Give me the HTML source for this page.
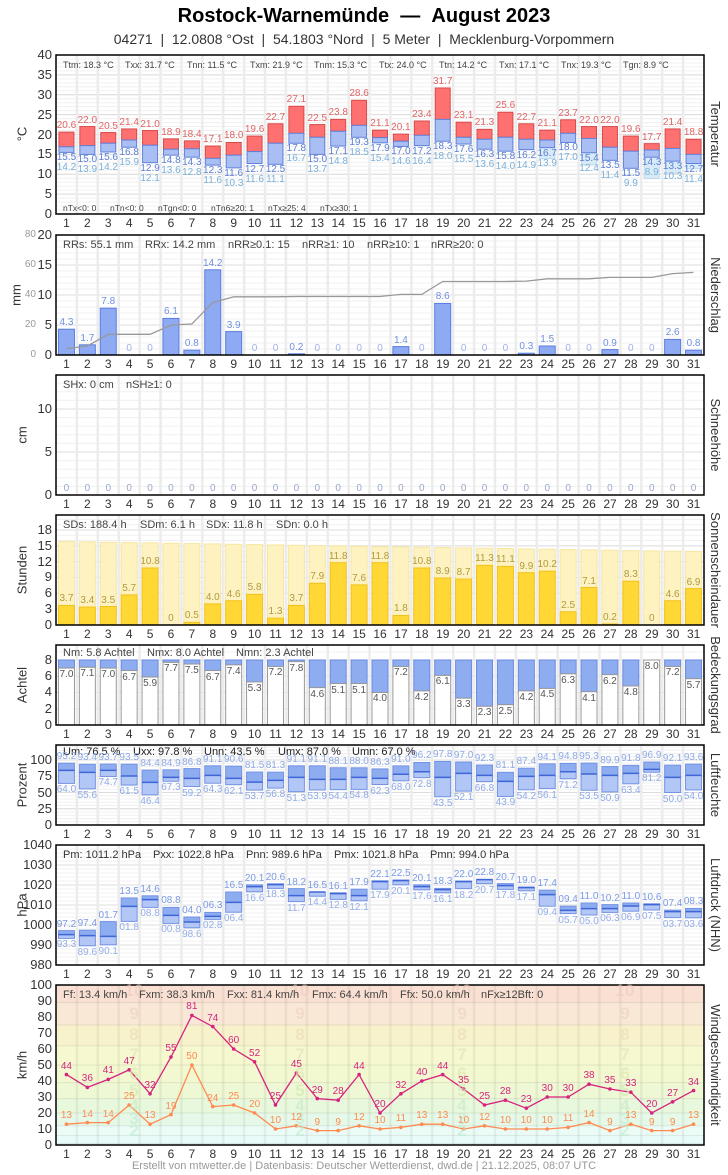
<!DOCTYPE html>
<html><head><meta charset="utf-8"><style>
body{margin:0;background:#fff;font-family:"Liberation Sans",sans-serif;}
#wrap{position:relative;width:728px;height:1175px;overflow:hidden;}
svg{position:absolute;left:0;top:0;}
.t1{position:absolute;left:0;width:728px;text-align:center;top:5px;font-size:20px;font-weight:bold;color:#000;}
.t2{position:absolute;left:0;width:728px;text-align:center;top:31px;font-size:14px;color:#333;}
.days{position:absolute;left:56px;width:648px;display:flex;font-size:12px;color:#333;}
.days span{flex:1;text-align:center;}
.g span{position:absolute;transform:translateX(-50%);font-size:10px;line-height:12px;white-space:nowrap;}
.yt span{position:absolute;right:676px;font-size:13px;line-height:14px;color:#333;}
.y2 span{position:absolute;right:692px;font-size:10px;line-height:12px;color:#999;}
.st{position:absolute;font-size:10.5px;color:#444;white-space:nowrap;}
.rt{position:absolute;left:708px;writing-mode:vertical-rl;font-size:13px;color:#333;white-space:nowrap;transform:translateY(-50%);}
.lt{position:absolute;writing-mode:vertical-rl;font-size:13px;color:#333;white-space:nowrap;transform:translate(-50%,-50%) rotate(180deg);left:22px;}
.bft span{position:absolute;transform:translateX(-50%);font-size:17px;font-weight:bold;line-height:20px;opacity:0.6;}
.foot{position:absolute;left:0;width:728px;text-align:center;top:1160px;font-size:11px;color:#999;}
.ts{font-size:9px !important;}
.tb{font-size:8.5px !important;}
</style></head><body><div id="wrap">
<svg id="sv" width="728" height="1175"></svg>
<div class="bft" id="bft">
<span>2</span><span>3</span><span>4</span><span>5</span><span>6</span><span>7</span><span>8</span><span>9</span><span>10</span>
<span>2</span><span>3</span><span>4</span><span>5</span><span>6</span><span>7</span><span>8</span><span>9</span><span>10</span>
<span>2</span><span>3</span><span>4</span><span>5</span><span>6</span><span>7</span><span>8</span><span>9</span><span>10</span>
<span>2</span><span>3</span><span>4</span><span>5</span><span>6</span><span>7</span><span>8</span><span>9</span><span>10</span>
</div>
<div class="t1">Rostock-Warnemünde &nbsp;— &nbsp;August 2023</div>
<div class="t2">04271 &nbsp;| &nbsp;12.0808 °Ost &nbsp;| &nbsp;54.1803 °Nord &nbsp;| &nbsp;5 Meter &nbsp;| &nbsp;Mecklenburg-Vorpommern</div>

<div class="yt" id="ytT"><span>0</span><span>5</span><span>10</span><span>15</span><span>20</span><span>25</span><span>30</span><span>35</span><span>40</span></div>
<div class="yt" id="ytP"><span>0</span><span>5</span><span>10</span><span>15</span><span>20</span></div>
<div class="y2" id="y2P"><span>0</span><span>20</span><span>40</span><span>60</span><span>80</span></div>
<div class="yt" id="ytS"><span>0</span><span>5</span><span>10</span></div>
<div class="yt" id="ytD"><span>0</span><span>3</span><span>6</span><span>9</span><span>12</span><span>15</span><span>18</span></div>
<div class="yt" id="ytN"><span>0</span><span>2</span><span>4</span><span>6</span><span>8</span></div>
<div class="yt" id="ytU"><span>0</span><span>25</span><span>50</span><span>75</span><span>100</span></div>
<div class="yt" id="ytL"><span>980</span><span>990</span><span>1000</span><span>1010</span><span>1020</span><span>1030</span><span>1040</span></div>
<div class="yt" id="ytW"><span>0</span><span>10</span><span>20</span><span>30</span><span>40</span><span>50</span><span>60</span><span>70</span><span>80</span><span>90</span><span>100</span></div>

<div class="lt" style="top:134px">°C</div>
<div class="lt" style="top:295px;left:16px">mm</div>
<div class="lt" style="top:435px">cm</div>
<div class="lt" style="top:570px">Stunden</div>
<div class="lt" style="top:685px">Achtel</div>
<div class="lt" style="top:785px">Prozent</div>
<div class="lt" style="top:905px">hPa</div>
<div class="lt" style="top:1065px">km/h</div>

<div class="rt" style="top:134px">Temperatur</div>
<div class="rt" style="top:295px">Niederschlag</div>
<div class="rt" style="top:435px">Schneehöhe</div>
<div class="rt" style="top:570px">Sonnenscheindauer</div>
<div class="rt" style="top:685px">Bedeckungsgrad</div>
<div class="rt" style="top:785px">Luftfeuchte</div>
<div class="rt" style="top:905px">Luftdruck (NHN)</div>
<div class="rt" style="top:1065px">Windgeschwindigkeit</div>

<div class="st ts" style="left:63px;top:60px">Ttm: 18.3 °C</div>
<div class="st ts" style="left:125px;top:60px">Txx: 31.7 °C</div>
<div class="st ts" style="left:187px;top:60px">Tnn: 11.5 °C</div>
<div class="st ts" style="left:250px;top:60px">Txm: 21.9 °C</div>
<div class="st ts" style="left:314px;top:60px">Tnm: 15.3 °C</div>
<div class="st ts" style="left:379px;top:60px">Ttx: 24.0 °C</div>
<div class="st ts" style="left:439px;top:60px">Ttn: 14.2 °C</div>
<div class="st ts" style="left:499px;top:60px">Txn: 17.1 °C</div>
<div class="st ts" style="left:561px;top:60px">Tnx: 19.3 °C</div>
<div class="st ts" style="left:623px;top:60px">Tgn: 8.9 °C</div>
<div class="st tb" style="left:63px;top:203px">nTx&lt;0: 0</div>
<div class="st tb" style="left:110px;top:203px">nTn&lt;0: 0</div>
<div class="st tb" style="left:158px;top:203px">nTgn&lt;0: 0</div>
<div class="st tb" style="left:211px;top:203px">nTn6≥20: 1</div>
<div class="st tb" style="left:268px;top:203px">nTx≥25: 4</div>
<div class="st tb" style="left:320px;top:203px">nTx≥30: 1</div>

<div class="st" style="left:63px;top:239px;font-size:11px">RRs: 55.1 mm</div>
<div class="st" style="left:145px;top:239px;font-size:11px">RRx: 14.2 mm</div>
<div class="st" style="left:228px;top:239px;font-size:11px">nRR≥0.1: 15</div>
<div class="st" style="left:302px;top:239px;font-size:11px">nRR≥1: 10</div>
<div class="st" style="left:367px;top:239px;font-size:11px">nRR≥10: 1</div>
<div class="st" style="left:431px;top:239px;font-size:11px">nRR≥20: 0</div>

<div class="st" style="left:63px;top:379px;font-size:11px">SHx: 0 cm</div>
<div class="st" style="left:126px;top:379px;font-size:11px">nSH≥1: 0</div>

<div class="st" style="left:63px;top:519px;font-size:11px">SDs: 188.4 h</div>
<div class="st" style="left:140px;top:519px;font-size:11px">SDm: 6.1 h</div>
<div class="st" style="left:206px;top:519px;font-size:11px">SDx: 11.8 h</div>
<div class="st" style="left:276px;top:519px;font-size:11px">SDn: 0.0 h</div>

<div class="st" style="left:63px;top:647px;font-size:11px">Nm: 5.8 Achtel</div>
<div class="st" style="left:147px;top:647px;font-size:11px">Nmx: 8.0 Achtel</div>
<div class="st" style="left:236px;top:647px;font-size:11px">Nmn: 2.3 Achtel</div>

<div class="st" style="left:63px;top:746px;font-size:11px;color:#222">Um: 76.5 %</div>
<div class="st" style="left:133px;top:746px;font-size:11px;color:#222">Uxx: 97.8 %</div>
<div class="st" style="left:204px;top:746px;font-size:11px;color:#222">Unn: 43.5 %</div>
<div class="st" style="left:278px;top:746px;font-size:11px;color:#222">Umx: 87.0 %</div>
<div class="st" style="left:352px;top:746px;font-size:11px;color:#222">Umn: 67.0 %</div>

<div class="st" style="left:63px;top:849px;font-size:11px;color:#333">Pm: 1011.2 hPa</div>
<div class="st" style="left:153px;top:849px;font-size:11px;color:#333">Pxx: 1022.8 hPa</div>
<div class="st" style="left:246px;top:849px;font-size:11px;color:#333">Pnn: 989.6 hPa</div>
<div class="st" style="left:334px;top:849px;font-size:11px;color:#333">Pmx: 1021.8 hPa</div>
<div class="st" style="left:430px;top:849px;font-size:11px;color:#333">Pmn: 994.0 hPa</div>

<div class="st" style="left:63px;top:989px;font-size:11px">Ff: 13.4 km/h</div>
<div class="st" style="left:139px;top:989px;font-size:11px">Fxm: 38.3 km/h</div>
<div class="st" style="left:227px;top:989px;font-size:11px">Fxx: 81.4 km/h</div>
<div class="st" style="left:312px;top:989px;font-size:11px">Fmx: 64.4 km/h</div>
<div class="st" style="left:400px;top:989px;font-size:11px">Ffx: 50.0 km/h</div>
<div class="st" style="left:481px;top:989px;font-size:11px">nFx≥12Bft: 0</div>

<div class="g" id="gtx" style="color:#e06565"><span>20.6</span><span>22.0</span><span>20.5</span><span>21.4</span><span>21.0</span><span>18.9</span><span>18.4</span><span>17.1</span><span>18.0</span><span>19.6</span><span>22.7</span><span>27.1</span><span>22.5</span><span>23.8</span><span>28.6</span><span>21.1</span><span>20.1</span><span>23.4</span><span>31.7</span><span>23.1</span><span>21.3</span><span>25.6</span><span>22.7</span><span>21.1</span><span>23.7</span><span>22.0</span><span>22.0</span><span>19.6</span><span>17.7</span><span>21.4</span><span>18.8</span></div>
<div class="g" id="gtn" style="color:#5a7fd6"><span>15.5</span><span>15.0</span><span>15.6</span><span>16.8</span><span>12.9</span><span>14.8</span><span>14.3</span><span>12.3</span><span>11.6</span><span>12.7</span><span>12.5</span><span>17.8</span><span>15.0</span><span>17.1</span><span>19.3</span><span>17.9</span><span>17.0</span><span>17.2</span><span>18.3</span><span>17.6</span><span>16.3</span><span>15.8</span><span>16.2</span><span>16.7</span><span>18.0</span><span>15.4</span><span>13.5</span><span>11.5</span><span>14.3</span><span>13.3</span><span>12.7</span></div>
<div class="g" id="gtg" style="color:#7ab0da"><span>14.2</span><span>13.9</span><span>14.2</span><span>15.9</span><span>12.1</span><span>13.6</span><span>12.8</span><span>11.6</span><span>10.3</span><span>11.6</span><span>11.1</span><span>16.7</span><span>13.7</span><span>14.8</span><span>18.5</span><span>15.4</span><span>14.6</span><span>16.4</span><span>18.0</span><span>15.5</span><span>13.6</span><span>14.0</span><span>14.9</span><span>13.9</span><span>17.0</span><span>12.4</span><span>11.4</span><span>9.9</span><span>8.9</span><span>10.3</span><span>11.4</span></div>
<div class="g" id="gpr" style="color:#7090e0"><span>4.3</span><span>1.7</span><span>7.8</span><span>0</span><span>0</span><span>6.1</span><span>0.8</span><span>14.2</span><span>3.9</span><span>0</span><span>0</span><span>0.2</span><span>0</span><span>0</span><span>0</span><span>0</span><span>1.4</span><span>0</span><span>8.6</span><span>0</span><span>0</span><span>0</span><span>0.3</span><span>1.5</span><span>0</span><span>0</span><span>0.9</span><span>0</span><span>0</span><span>2.6</span><span>0.8</span></div>
<div class="g" id="gsn" style="color:#9aaac8"><span>0</span><span>0</span><span>0</span><span>0</span><span>0</span><span>0</span><span>0</span><span>0</span><span>0</span><span>0</span><span>0</span><span>0</span><span>0</span><span>0</span><span>0</span><span>0</span><span>0</span><span>0</span><span>0</span><span>0</span><span>0</span><span>0</span><span>0</span><span>0</span><span>0</span><span>0</span><span>0</span><span>0</span><span>0</span><span>0</span><span>0</span></div>
<div class="g" id="gsd" style="color:#b09a40"><span>3.7</span><span>3.4</span><span>3.5</span><span>5.7</span><span>10.8</span><span>0</span><span>0.5</span><span>4.0</span><span>4.6</span><span>5.8</span><span>1.3</span><span>3.7</span><span>7.9</span><span>11.8</span><span>7.6</span><span>11.8</span><span>1.8</span><span>10.8</span><span>8.9</span><span>8.7</span><span>11.3</span><span>11.1</span><span>9.9</span><span>10.2</span><span>2.5</span><span>7.1</span><span>0.2</span><span>8.3</span><span>0</span><span>4.6</span><span>6.9</span></div>
<div class="g" id="gnn" style="color:#555"><span>7.0</span><span>7.1</span><span>7.0</span><span>6.7</span><span>5.9</span><span>7.7</span><span>7.5</span><span>6.7</span><span>7.4</span><span>5.3</span><span>7.2</span><span>7.8</span><span>4.6</span><span>5.1</span><span>5.1</span><span>4.0</span><span>7.2</span><span>4.2</span><span>6.1</span><span>3.3</span><span>2.3</span><span>2.5</span><span>4.2</span><span>4.5</span><span>6.3</span><span>4.1</span><span>6.2</span><span>4.8</span><span>8.0</span><span>7.2</span><span>5.7</span></div>
<div class="g" id="gux" style="color:#8eaae8"><span>95.2</span><span>93.4</span><span>93.7</span><span>93.5</span><span>84.4</span><span>84.9</span><span>86.8</span><span>91.1</span><span>90.6</span><span>81.5</span><span>81.3</span><span>91.1</span><span>91.1</span><span>88.1</span><span>88.0</span><span>86.3</span><span>91.0</span><span>96.2</span><span>97.8</span><span>97.0</span><span>92.3</span><span>81.1</span><span>87.4</span><span>94.1</span><span>94.8</span><span>95.3</span><span>89.9</span><span>91.8</span><span>96.9</span><span>92.1</span><span>93.6</span></div>
<div class="g" id="gun" style="color:#8eaae8"><span>64.0</span><span>55.6</span><span>74.7</span><span>61.5</span><span>46.4</span><span>67.3</span><span>59.2</span><span>64.3</span><span>62.1</span><span>53.7</span><span>56.8</span><span>51.3</span><span>53.9</span><span>54.4</span><span>54.8</span><span>62.3</span><span>68.0</span><span>72.8</span><span>43.5</span><span>52.1</span><span>66.8</span><span>43.9</span><span>54.2</span><span>56.1</span><span>71.2</span><span>53.5</span><span>50.9</span><span>63.4</span><span>81.2</span><span>50.0</span><span>54.0</span></div>
<div class="g" id="gpx" style="color:#7b9be6"><span>97.2</span><span>97.4</span><span>01.7</span><span>13.5</span><span>14.6</span><span>08.8</span><span>04.0</span><span>06.3</span><span>16.5</span><span>20.1</span><span>20.6</span><span>18.2</span><span>16.5</span><span>16.1</span><span>17.9</span><span>22.1</span><span>22.5</span><span>20.1</span><span>18.3</span><span>22.0</span><span>22.8</span><span>20.7</span><span>19.0</span><span>17.4</span><span>09.4</span><span>11.0</span><span>10.2</span><span>11.0</span><span>10.6</span><span>07.4</span><span>08.3</span></div>
<div class="g" id="gpn" style="color:#94aee8"><span>93.3</span><span>89.6</span><span>90.1</span><span>01.8</span><span>08.8</span><span>00.8</span><span>98.6</span><span>02.8</span><span>06.4</span><span>16.6</span><span>18.3</span><span>11.7</span><span>14.4</span><span>12.8</span><span>12.1</span><span>17.9</span><span>20.1</span><span>17.6</span><span>16.1</span><span>18.2</span><span>20.7</span><span>17.8</span><span>17.1</span><span>09.4</span><span>05.7</span><span>05.0</span><span>06.3</span><span>06.9</span><span>07.5</span><span>03.7</span><span>03.6</span></div>
<div class="g" id="gfx" style="color:#d6237f"><span>44</span><span>36</span><span>41</span><span>47</span><span>32</span><span>55</span><span>81</span><span>74</span><span>60</span><span>52</span><span>25</span><span>45</span><span>29</span><span>28</span><span>44</span><span>20</span><span>32</span><span>40</span><span>44</span><span>35</span><span>25</span><span>28</span><span>23</span><span>30</span><span>30</span><span>38</span><span>35</span><span>33</span><span>20</span><span>27</span><span>34</span></div>
<div class="g" id="gff" style="color:#ff8a50"><span>13</span><span>14</span><span>14</span><span>25</span><span>13</span><span>19</span><span>50</span><span>24</span><span>25</span><span>20</span><span>10</span><span>12</span><span>9</span><span>9</span><span>12</span><span>10</span><span>11</span><span>13</span><span>13</span><span>10</span><span>12</span><span>10</span><span>10</span><span>10</span><span>11</span><span>14</span><span>9</span><span>13</span><span>9</span><span>9</span><span>13</span></div>

<div class="days" style="top:216px"><span>1</span><span>2</span><span>3</span><span>4</span><span>5</span><span>6</span><span>7</span><span>8</span><span>9</span><span>10</span><span>11</span><span>12</span><span>13</span><span>14</span><span>15</span><span>16</span><span>17</span><span>18</span><span>19</span><span>20</span><span>21</span><span>22</span><span>23</span><span>24</span><span>25</span><span>26</span><span>27</span><span>28</span><span>29</span><span>30</span><span>31</span></div>
<div class="days" style="top:357px"><span>1</span><span>2</span><span>3</span><span>4</span><span>5</span><span>6</span><span>7</span><span>8</span><span>9</span><span>10</span><span>11</span><span>12</span><span>13</span><span>14</span><span>15</span><span>16</span><span>17</span><span>18</span><span>19</span><span>20</span><span>21</span><span>22</span><span>23</span><span>24</span><span>25</span><span>26</span><span>27</span><span>28</span><span>29</span><span>30</span><span>31</span></div>
<div class="days" style="top:497px"><span>1</span><span>2</span><span>3</span><span>4</span><span>5</span><span>6</span><span>7</span><span>8</span><span>9</span><span>10</span><span>11</span><span>12</span><span>13</span><span>14</span><span>15</span><span>16</span><span>17</span><span>18</span><span>19</span><span>20</span><span>21</span><span>22</span><span>23</span><span>24</span><span>25</span><span>26</span><span>27</span><span>28</span><span>29</span><span>30</span><span>31</span></div>
<div class="days" style="top:627px"><span>1</span><span>2</span><span>3</span><span>4</span><span>5</span><span>6</span><span>7</span><span>8</span><span>9</span><span>10</span><span>11</span><span>12</span><span>13</span><span>14</span><span>15</span><span>16</span><span>17</span><span>18</span><span>19</span><span>20</span><span>21</span><span>22</span><span>23</span><span>24</span><span>25</span><span>26</span><span>27</span><span>28</span><span>29</span><span>30</span><span>31</span></div>
<div class="days" style="top:727px"><span>1</span><span>2</span><span>3</span><span>4</span><span>5</span><span>6</span><span>7</span><span>8</span><span>9</span><span>10</span><span>11</span><span>12</span><span>13</span><span>14</span><span>15</span><span>16</span><span>17</span><span>18</span><span>19</span><span>20</span><span>21</span><span>22</span><span>23</span><span>24</span><span>25</span><span>26</span><span>27</span><span>28</span><span>29</span><span>30</span><span>31</span></div>
<div class="days" style="top:827px"><span>1</span><span>2</span><span>3</span><span>4</span><span>5</span><span>6</span><span>7</span><span>8</span><span>9</span><span>10</span><span>11</span><span>12</span><span>13</span><span>14</span><span>15</span><span>16</span><span>17</span><span>18</span><span>19</span><span>20</span><span>21</span><span>22</span><span>23</span><span>24</span><span>25</span><span>26</span><span>27</span><span>28</span><span>29</span><span>30</span><span>31</span></div>
<div class="days" style="top:967px"><span>1</span><span>2</span><span>3</span><span>4</span><span>5</span><span>6</span><span>7</span><span>8</span><span>9</span><span>10</span><span>11</span><span>12</span><span>13</span><span>14</span><span>15</span><span>16</span><span>17</span><span>18</span><span>19</span><span>20</span><span>21</span><span>22</span><span>23</span><span>24</span><span>25</span><span>26</span><span>27</span><span>28</span><span>29</span><span>30</span><span>31</span></div>
<div class="days" style="top:1147px"><span>1</span><span>2</span><span>3</span><span>4</span><span>5</span><span>6</span><span>7</span><span>8</span><span>9</span><span>10</span><span>11</span><span>12</span><span>13</span><span>14</span><span>15</span><span>16</span><span>17</span><span>18</span><span>19</span><span>20</span><span>21</span><span>22</span><span>23</span><span>24</span><span>25</span><span>26</span><span>27</span><span>28</span><span>29</span><span>30</span><span>31</span></div>

<div class="foot">Erstellt von mtwetter.de | Datenbasis: Deutscher Wetterdienst, dwd.de | 21.12.2025, 08:07 UTC</div>
</div>
<script>
const X0=56,CW=648/31;
const cx=i=>X0+CW*(i+0.5);
const P={T:[55,214,0,40],P:[235,355,0,20],S:[375,495,0,13.95],D:[515,625,0,20.84],N:[645,725,0,9.846],U:[745,825,0,123.1],L:[845,965,980,1040],W:[985,1145,0,100]};
function Y(k,v){const p=P[k];return p[1]-(v-p[2])/(p[3]-p[2])*(p[1]-p[0]);}
const nums=id=>[...document.querySelectorAll('#'+id+' span')].map(s=>parseFloat(s.textContent));
const tx=nums('gtx'),tn=nums('gtn'),tg=nums('gtg'),pr=nums('gpr'),sd=nums('gsd'),nn=nums('gnn'),ux=nums('gux'),un=nums('gun'),fx=nums('gfx'),ff=nums('gff');
const pv=v=>v>=50?900+v:1000+v;
const px=nums('gpx').map(pv),pn=nums('gpn').map(pv);
const tm=[16.9,17.2,17.8,18.6,17.3,16.3,16.4,14.0,14.8,15.7,17.8,20.3,19.3,20.8,22.3,19.2,18.3,19.8,23.8,19.3,18.8,19.3,18.8,18.6,20.3,19.0,16.8,15.8,16.1,16.5,15.0];
const um=[84.1,81,84,75.4,65.6,73.3,71.8,76.4,71.8,66,68.7,73.3,70.3,70.3,73.3,71.8,78,82,73.3,79.5,76.4,67.2,74.9,76.4,82,78.5,76.4,79.5,85.6,73.3,76.4];
const pm=[995.2,994.7,994.3,1009.3,1012.7,1004.8,1001.5,1004.3,1011.3,1019.2,1020.2,1014.7,1016.5,1015.7,1014.7,1021.7,1022.2,1019.2,1017.7,1021.7,1022.7,1019.7,1018.7,1015.2,1007.3,1008.2,1008.2,1009.5,1010.2,1006.7,1006.7];
let s='';
const R=(x,y,w,h,f,st,sw)=>{if(h<0){y+=h;h=-h;}s+=`<rect x="${x}" y="${y}" width="${w}" height="${h}" fill="${f}"${st?` stroke="${st}" stroke-width="${sw||1}"`:''}/>`;};
const L=(x1,y1,x2,y2,c,w)=>{s+=`<line x1="${x1}" y1="${y1}" x2="${x2}" y2="${y2}" stroke="${c}" stroke-width="${w}"/>`;};
function grid(k,minor,major){const p=P[k];
 for(let v=p[2];v<=p[3]+1e-6;v+=minor){const y=Y(k,v);L(X0,y,704,y,'#f0f0f0',1);}
 for(let v=p[2];v<=p[3]+1e-6;v+=major){const y=Y(k,v);L(X0,y,704,y,'#dcdcdc',1);}
 for(let j=1;j<31;j++){const x=X0+CW*j;L(x,p[0],x,p[1],'#ececec',2.5);}
}
function border(k){const p=P[k];s+=`<rect x="${X0}" y="${p[0]}" width="648" height="${p[1]-p[0]}" fill="none" stroke="#000" stroke-width="1.5"/>`;}
const BW=15;
const bands=[[0,1,'#e4f8f8'],[1,6,'#e8fbf9'],[6,12,'#eafcf5'],[12,20,'#e6f9e8'],[20,29,'#e8f8dc'],[29,39,'#eef8d4'],[39,50,'#f2f8cf'],[50,62,'#f6f8d0'],[62,75,'#f8f2cc'],[75,89,'#fae8d6'],[89,100,'#f9e0d2']];
bands.forEach(b=>{R(X0,Y('W',b[1]),648,Y('W',b[0])-Y('W',b[1]),b[2]);});
grid('T',1,5);grid('P',1,5);grid('S',1,5);grid('D',1,3);grid('N',1,2);grid('U',5,25);grid('L',2,10);
for(let j=1;j<31;j++){const x=X0+CW*j;L(x,985,x,1145,'rgba(0,0,0,0.05)',2.5);}
bands.forEach(b=>{const y=Y('W',b[1]);L(X0,y,704,y,'rgba(0,0,0,0.08)',1);});
const lt=[23,25,28,29,30];
for(let i=0;i<31;i++){const x=cx(i)-BW/2;
 if(lt.includes(i))R(x,Y('T',tn[i]),BW,Y('T',tg[i])-Y('T',tn[i]),'#d8eaf6','#bcd8ee');
 R(x,Y('T',tx[i]),BW,Y('T',tm[i])-Y('T',tx[i]),'#ff7070','#d84a4a');
 R(x,Y('T',tm[i]),BW,Y('T',tn[i])-Y('T',tm[i]),'#a9bff4','#5f80dc');
}
for(let i=0;i<31;i++){if(pr[i]>0)R(cx(i)-8,Y('P',pr[i]),16,355-Y('P',pr[i]),'#8eaaf2','#5a7ce0');}
let c=0,pts=[];for(let i=0;i<31;i++){c+=pr[i];pts.push(cx(i).toFixed(1)+','+Y('P',c/4).toFixed(1));}
s+=`<polyline points="${pts.join(' ')}" fill="none" stroke="#999" stroke-width="1.3"/>`;
for(let i=0;i<31;i++){const pos=15.8-i*0.063;R(cx(i)-8,Y('D',pos),16,625-Y('D',pos),'#fdf2c0','#f8e6a0');
 if(sd[i]>0)R(cx(i)-8,Y('D',sd[i]),16,625-Y('D',sd[i]),'#ffd835','#f2c21a');}
for(let i=0;i<31;i++){const x=cx(i)-8;R(x,Y('N',8),16,Y('N',nn[i])-Y('N',8),'#8eacf0','#6a8ae0');R(x,Y('N',nn[i]),16,725-Y('N',nn[i]),'#fff','#999');}
for(let i=0;i<31;i++){const x=cx(i)-8;R(x,Y('U',ux[i]),16,Y('U',um[i])-Y('U',ux[i]),'#8eacf0','#7393e3');R(x,Y('U',um[i]),16,Y('U',un[i])-Y('U',um[i]),'#b3c7f6','#7393e3');L(x,Y('U',um[i]),x+16,Y('U',um[i]),'#3f66d6',1.5);}
for(let i=0;i<31;i++){const x=cx(i)-8;R(x,Y('L',px[i]),16,Y('L',pm[i])-Y('L',px[i]),'#8eacf0','#7393e3');R(x,Y('L',pm[i]),16,Y('L',pn[i])-Y('L',pm[i]),'#b3c7f6','#7393e3');L(x,Y('L',pm[i]),x+16,Y('L',pm[i]),'#3f66d6',1.5);}
function wl(a,col){const p=a.map((v,i)=>cx(i).toFixed(1)+','+Y('W',v).toFixed(1));s+=`<polyline points="${p.join(' ')}" fill="none" stroke="${col}" stroke-width="1.3"/>`;a.forEach((v,i)=>{s+=`<circle cx="${cx(i)}" cy="${Y('W',v)}" r="1.8" fill="${col}"/>`;});}
wl(ff,'#ff8a50');wl(fx,'#d6237f');
['T','P','S','D','N','U','L','W'].forEach(border);
document.getElementById('sv').innerHTML=s;
function place(id,f){document.querySelectorAll('#'+id+' span').forEach((e,i)=>{e.style.left=cx(i)+'px';e.style.top=(f(i)-6)+'px';});}
place('gtx',i=>Y('T',tx[i])-6);
place('gtn',i=>Y('T',tn[i])+6);
place('gtg',i=>Y('T',tn[i])+16);
place('gpr',i=>Y('P',pr[i])-6);
document.querySelectorAll('#gpr span').forEach((e,i)=>{if(pr[i]==0)e.style.color='#9fb2e8';});
place('gsn',i=>489);
place('gsd',i=>Y('D',sd[i])-6);
place('gnn',i=>Y('N',nn[i])+7);
place('gux',i=>Y('U',ux[i])-6);
place('gun',i=>Y('U',un[i])+7);
place('gpx',i=>Y('L',px[i])-6);
place('gpn',i=>Y('L',pn[i])+7);
place('gfx',i=>Y('W',fx[i])-8);
place('gff',i=>Y('W',ff[i])-8);
function ticks(id,k){document.querySelectorAll('#'+id+' span').forEach(e=>{e.style.top=(Y(k,parseFloat(e.textContent))-7)+'px';});}
['T','P','S','D','N','U','L','W'].forEach(k=>ticks('yt'+k,k));
document.querySelectorAll('#y2P span').forEach(e=>{e.style.top=(Y('P',parseFloat(e.textContent)/4)-6)+'px';});
const bx=[134,300,462,625],bc={2:'#bfe9d0',3:'#bfe9d0',4:'#c4e8c4',5:'#d0e8b0',6:'#d8e8ac',7:'#e4e2b4',8:'#e8dcb8',9:'#ecd2c0',10:'#eecbbd'};
const bm={2:9,3:16,4:24.5,5:34,6:44.5,7:56,8:68.5,9:82,10:96};
document.querySelectorAll('#bft span').forEach((e,i)=>{const d=+e.textContent;e.style.left=bx[Math.floor(i/9)]+'px';e.style.top=(Y('W',bm[d])-10)+'px';e.style.color=bc[d];});
</script>
</body></html>
